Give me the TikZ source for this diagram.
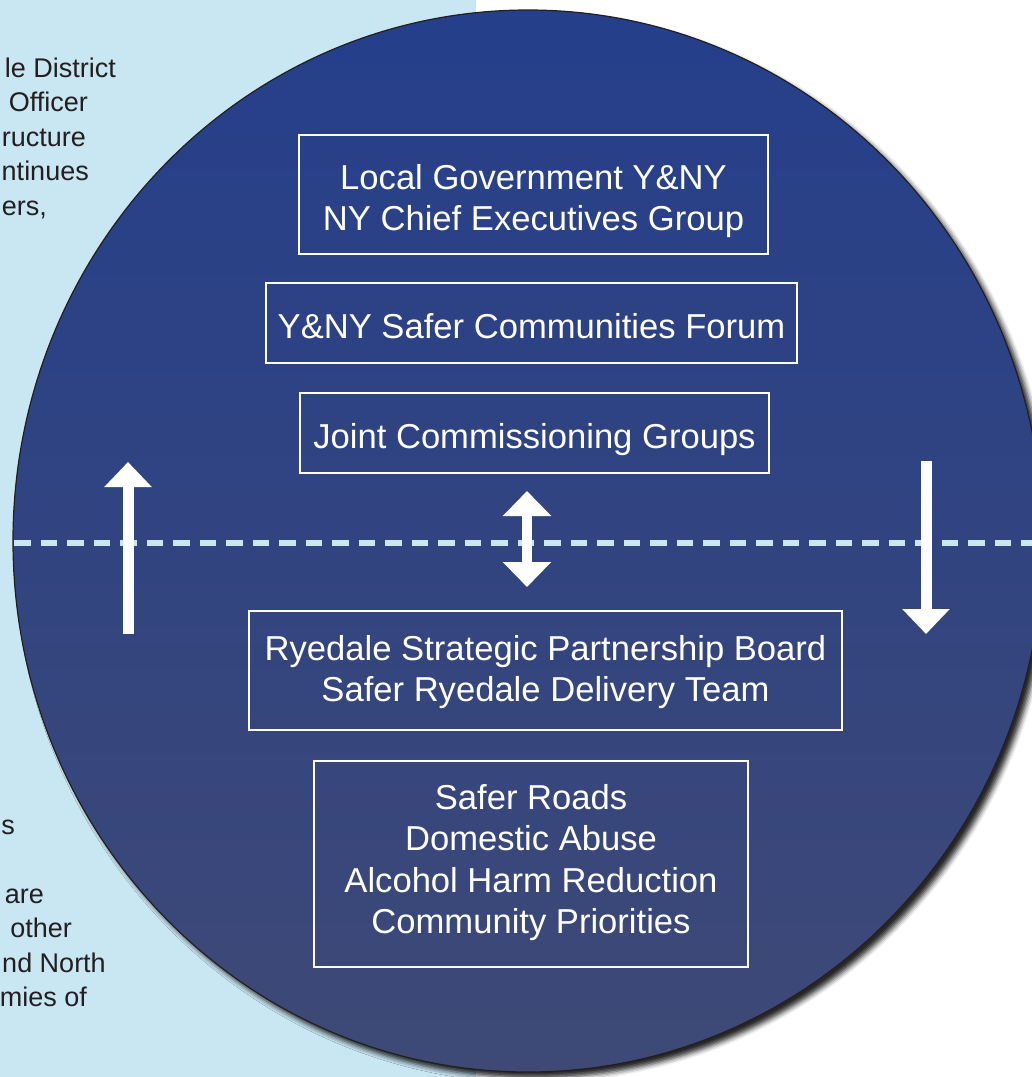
\documentclass[tikz,border=0pt]{standalone}
\usepackage{fontspec}
\setmainfont{Liberation Sans}
\usepackage{tikz}
\usetikzlibrary {arrows.meta, shadows.blur}
\definecolor{panelblue}{RGB}{201,230,243}
\definecolor{discblue}{RGB}{37,63,139}
\definecolor{discgrey}{RGB}{62,73,118}
\definecolor{inkgrey}{RGB}{35,31,32}
\newcommand{\stacklines}[1]{\begin{tabular}[b]{@{}c@{}}#1\end{tabular}}

\begin{document}
\begin{tikzpicture}[x=1pt, y=-1pt,
		box/.style={draw=white, line width=2pt, inner sep=0pt, text=white, text depth=0pt, font=\fontsize{34.6}{40.5}\selectfont},
		sidetext/.style={anchor=base east, inner sep=0pt, text=inkgrey, font=\fontsize{27}{34.5}\selectfont},
		blockarrow/.style={white, line width=11pt}]
		\useasboundingbox (0, 0) rectangle (1032, 1077);
		\clip (0, 0) rectangle (1032, 1077);
		\fill[panelblue] (0, 0) rectangle (476, 1077);
		% the disc
		\path[draw=inkgrey, line width=1.2pt, top color=discblue, middle color=discblue, bottom color=discgrey,
			blur shadow={shadow xshift=6pt, shadow yshift=-6pt, shadow blur radius=5pt, shadow opacity=85}]
			(528, 541) ellipse [x radius=515, y radius=531];
		\begin{scope}
			\clip (528, 541) ellipse [x radius=515, y radius=531];
			\draw[panelblue, line width=5.3pt, dash pattern=on 16.5pt off 10pt] (14, 543) -- (1040, 543);
		\end{scope}
		% side text at the left edge
		\node[sidetext] (sidea) at (116, 77) {le District};
		\node[sidetext] (sideb) at (88, 111.5) {Officer};
		\node[sidetext] (sidec) at (86, 146) {ructure};
		\node[sidetext] (sided) at (89, 180.5) {ntinues};
		\node[sidetext] (sidee) at (47, 215) {ers,};
		\node[sidetext] (sidef) at (15, 834) {s};
		\node[sidetext] (sideg) at (44, 903) {are};
		\node[sidetext] (sideh) at (72, 937.5) {other};
		\node[sidetext] (sidei) at (106, 972) {nd North};
		\node[sidetext] (sidej) at (87, 1006.5) {mies of};
		% boxes
		\node[box, text height=71.8pt, minimum width=469pt, minimum height=119pt] (govbox) at (533.5, 194.5) {\stacklines{Local Government Y\&NY\\NY Chief Executives Group}};
		\node[box, text height=30.8pt, minimum width=531pt, minimum height=80pt] (forumbox) at (531.5, 323) {Y\&NY Safer Communities Forum};
		\node[box, text height=30.8pt, minimum width=469pt, minimum height=80pt] (jcgbox) at (534.5, 433) {Joint Commissioning Groups};
		\node[box, text height=61.8pt, minimum width=593pt, minimum height=119pt] (ryedalebox) at (545.5, 670.5) {\stacklines{Ryedale Strategic Partnership Board\\Safer Ryedale Delivery Team}};
		\node[box, text height=138.8pt, minimum width=434pt, minimum height=206pt, font=\fontsize{34.6}{41.3}\selectfont] (prioritybox) at (531, 864) {\stacklines{Safer Roads\\Domestic Abuse\\Alcohol Harm Reduction\\Community Priorities}};
		% arrows
		\coordinate (uptail) at (128, 634);
		\coordinate (uphead) at (128, 462);
		\coordinate (downtail) at (926, 461);
		\coordinate (downhead) at (926, 634);
		\draw[blockarrow, arrows = {-Triangle[width=46pt, length=25pt]}] (uptail) -- (uphead);
		\draw[blockarrow, arrows = {-Triangle[width=46pt, length=25pt]}] (downtail) -- (downhead);
		\draw[blockarrow, line width=10pt, arrows = {Triangle[width=47pt, length=25pt]-Triangle[width=47pt, length=25pt]}, shorten <=17pt, shorten >=23pt]
			([xshift=-7.5pt]jcgbox.south) -- ([xshift=-7.5pt]jcgbox.south |- ryedalebox.north);
	\end{tikzpicture}
\end{document}
